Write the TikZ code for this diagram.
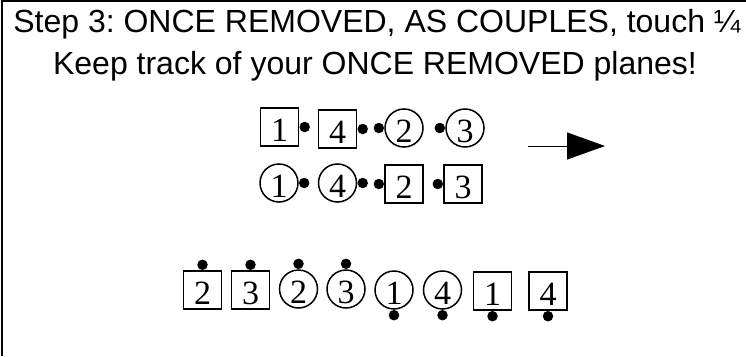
\documentclass[tikz,border=0pt]{standalone}
\usepackage{fontspec}
\setmainfont{Liberation Sans}
\newfontfamily\numfont{Liberation Serif}
\usetikzlibrary{positioning, arrows.meta}
\frenchspacing

\begin{document}
\begin{tikzpicture}[x=1pt, y=-1pt,
    man/.style={draw, line width=1.5pt, minimum size=38pt, inner sep=0pt, text height=28pt, text depth=0pt, font=\numfont\fontsize{34}{34}\selectfont},
    woman/.style={circle, draw, line width=1.5pt, minimum size=38pt, inner sep=0pt, text height=28pt, text depth=0pt, font=\numfont\fontsize{34}{34}\selectfont},
    hand/.style={circle, fill=black, minimum size=10.5pt, inner sep=0pt},
    title/.style={anchor=base, font=\fontsize{32}{38}\selectfont}
]
\useasboundingbox (0,0) rectangle (746,356);

% Rahmen
\draw[line width=1.5pt] (2,356) -- (2,1) -- (746,1);

% Ueberschrift
\node[title] (t1) at (377,32) {Step 3: ONCE REMOVED, AS COUPLES, touch ¼};
\node[title] (t2) at (375,74) {Keep track of your ONCE REMOVED planes!};

% Reihe 1
\node[man] (a1) at (279.5,127) {1};
\node[man] (a4) at (337.5,129) {4};
\node[woman] (b2) at (404,128) {2};
\node[woman] (b3) at (465,128) {3};
\node[hand, right=0pt of a1] (ha1) {};
\node[hand, right=0pt of a4] (ha4) {};
\node[hand, left=0pt of b2] (hb2) {};
\node[hand, left=0pt of b3] (hb3) {};

% Reihe 2
\node[woman] (c1) at (279,183) {1};
\node[woman] (c4) at (337.5,183) {4};
\node[man] (d2) at (404,184) {2};
\node[man] (d3) at (463,184) {3};
\node[hand, right=0pt of c1] (hc1) {};
\node[hand, right=0pt of c4] (hc4) {};
\node[hand, left=0pt of d2] (hd2) {};
\node[hand, left=0pt of d3] (hd3) {};

% Pfeil
\coordinate (p1) at (528,146);
\coordinate (p2) at (605,146);
\draw[line width=1pt, -{Triangle[length=38pt, width=27pt]}] (p1) -- (p2);

% Reihe 3
\node[man] (e2) at (202.5,290) {2};
\node[man] (e3) at (250.5,290) {3};
\node[woman] (f2) at (298.5,289) {2};
\node[woman] (f3) at (346,289) {3};
\node[woman] (f1) at (394,290) {1};
\node[woman] (f4) at (442.5,290) {4};
\node[man] (g1) at (492.5,291) {1};
\node[man] (g4) at (548,291) {4};
\node[hand, above=0pt of e2] (he2) {};
\node[hand, above=0pt of e3] (he3) {};
\node[hand, above=0pt of f2] (hf2) {};
\node[hand, above=0pt of f3] (hf3) {};
\node[hand, below=0pt of f1] (hf1) {};
\node[hand, below=0pt of f4] (hf4) {};
\node[hand, below=0pt of g1] (hg1) {};
\node[hand, below=0pt of g4] (hg4) {};

\end{tikzpicture}
\end{document}
